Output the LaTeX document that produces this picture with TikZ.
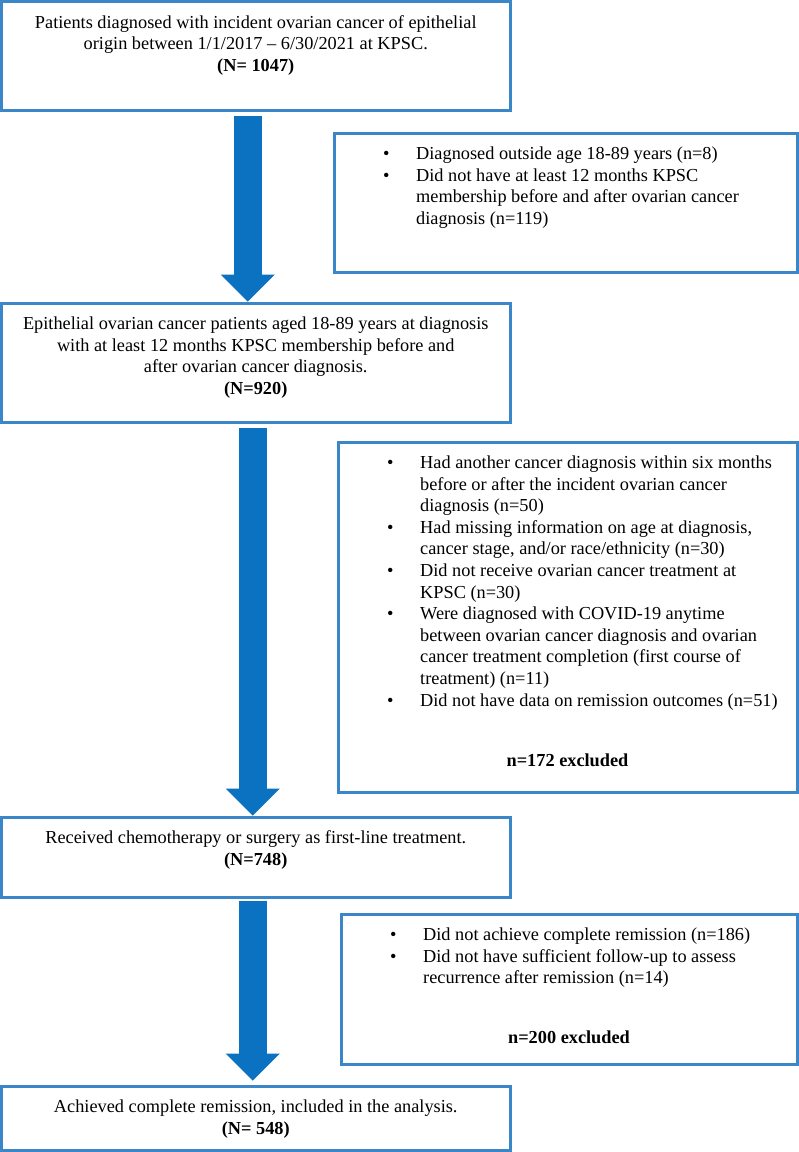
\documentclass[tikz,border=0pt]{standalone}
\usepackage{fontspec}
\setmainfont{Liberation Serif}
\usetikzlibrary{positioning,arrows.meta}
\definecolor{boxblue}{HTML}{3A86C8}
\definecolor{arrowblue}{HTML}{0B72C2}
\newcommand{\bul}{\makebox[33pt][l]{\textbullet}}
\newcommand{\ind}{\hspace*{33pt}}

\begin{document}
\begin{tikzpicture}[x=1pt,y=-1pt]
            \tikzset{
                boxframe/.style={draw=boxblue,line width=3pt,inner sep=0pt},
                maintext/.style={align=center,inner sep=0pt,font=\fontsize{18.3}{21.6}\selectfont},
                excltext/.style={align=left,inner sep=0pt,font=\fontsize{18.3}{21.6}\selectfont},
                flow/.style={draw=arrowblue,line width=28pt,-{Triangle[width=54pt,length=27pt,line width=0pt]}}
            }
            \fill[white] (0,0) rectangle (799,1152);
            \useasboundingbox (0,0) rectangle (799,1152);

            % main boxes
            \node[boxframe,minimum width=508.5pt,minimum height=108.5pt] (b1) at (255.75,55.75) {};
            \node[boxframe,minimum width=508.5pt,minimum height=119pt] (b2) at (255.75,362.5) {};
            \node[boxframe,minimum width=508.5pt,minimum height=80pt] (b3) at (255.75,857) {};
            \node[boxframe,minimum width=508.5pt,minimum height=64pt] (b4) at (255.75,1118) {};

            % exclusion boxes
            \node[boxframe,minimum width=463pt,minimum height=139pt] (x1) at (565.5,202.5) {};
            \node[boxframe,minimum width=459pt,minimum height=350pt] (x2) at (567.5,617) {};
            \node[boxframe,minimum width=456pt,minimum height=150pt] (x3) at (569,989) {};

            \node[maintext,below=15pt of b1.north] (t1) {Patients diagnosed with incident ovarian cancer of epithelial\\origin between 1/1/2017 -- 6/30/2021 at KPSC.\\\textbf{(N= 1047)}};
            \node[maintext,below=15pt of b2.north] (t2) {Epithelial ovarian cancer patients aged 18-89 years at diagnosis\\with at least 12 months KPSC membership before and\\after ovarian cancer diagnosis.\\\textbf{(N=920)}};
            \node[maintext,below=15pt of b3.north] (t3) {Received chemotherapy or surgery as first-line treatment.\\\textbf{(N=748)}};
            \node[maintext,below=15pt of b4.north] (t4) {Achieved complete remission, included in the analysis.\\\textbf{(N= 548)}};

            \node[excltext,below right=15pt and 50.5pt of x1.north west] (e1) {\bul Diagnosed outside age 18-89 years (n=8)\\
                \bul Did not have at least 12 months KPSC\\
                \ind membership before and after ovarian cancer\\
                \ind diagnosis (n=119)};
            \node[excltext,below right=15pt and 50.5pt of x2.north west] (e2) {\bul Had another cancer diagnosis within six months\\
                \ind before or after the incident ovarian cancer\\
                \ind diagnosis (n=50)\\
                \bul Had missing information on age at diagnosis,\\
                \ind cancer stage, and/or race/ethnicity (n=30)\\
                \bul Did not receive ovarian cancer treatment at\\
                \ind KPSC (n=30)\\
                \bul Were diagnosed with COVID-19 anytime\\
                \ind between ovarian cancer diagnosis and ovarian\\
                \ind cancer treatment completion (first course of\\
                \ind treatment) (n=11)\\
                \bul Did not have data on remission outcomes (n=51)};
            \node[excltext,below right=15pt and 50.5pt of x3.north west] (e3) {\bul Did not achieve complete remission (n=186)\\
                \bul Did not have sufficient follow-up to assess\\
                \ind recurrence after remission (n=14)};

            \node[maintext,above=27pt of x2.south] (n2) {\textbf{n=172 excluded}};
            \node[maintext,above=22pt of x3.south] (n3) {\textbf{n=200 excluded}};

            % arrows
            \draw[flow] ([xshift=-8pt,yshift=-4pt]b1.south) -- ([xshift=-8pt]b2.north);
            \draw[flow] ([xshift=-3pt,yshift=-4pt]b2.south) -- ([xshift=-3pt]b3.north);
            \draw[flow] ([xshift=-3pt,yshift=-2pt]b3.south) -- ([xshift=-3pt,yshift=4pt]b4.north);
        \end{tikzpicture}
\end{document}
